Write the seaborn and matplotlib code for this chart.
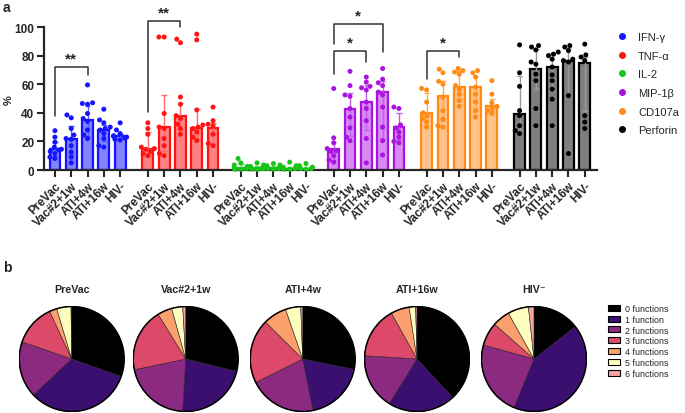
import numpy as np
import pandas as pd
import matplotlib
matplotlib.use("Agg")
import matplotlib.pyplot as plt
from matplotlib.lines import Line2D
from matplotlib.patches import Patch, Circle
import seaborn as sns

# %%
# panel a data
markers = ["IFN-γ", "TNF-α", "IL-2", "MIP-1β", "CD107a", "Perforin"]
timepoints = ["PreVac", "Vac#2+1w", "ATI+4w", "ATI+16w", "HIV-"]

bar_height = [
    [14.5, 22, 35, 28, 23.5],
    [15, 30, 38, 29.5, 29.5],
    [1.5, 1.5, 1.5, 1, 1],
    [15, 43, 47.5, 54.5, 30],
    [40, 51.5, 58, 58, 45],
    [39.5, 70.5, 72, 76.5, 74.5],
]
err_hi = [
    [19.5, 31, 45, 31.5, 25],
    [26.5, 52.5, 47, 42.5, 33],
    [4, 3, 3, 2, 1.5],
    [19.5, 54, 59.5, 62.5, 40],
    [54, 62.5, 69, 66, 50],
    [65.5, 84.5, 82, 85, 79],
]
err_lo = [
    [10, 11, 24, 20, 21.5],
    [11, 13, 28, 22, 18.5],
    [0.5, 0.5, 0.5, 0.5, 0.5],
    [7, 24, 28, 22, 21],
    [34, 34, 48, 42, 41.5],
    [28, 56.5, 55, 52, 41.5],
]

ifng = [[27.5, 23, 19.5, 16, 14.5, 14, 13, 11.5, 9, 8],
        [38.5, 36.5, 29, 24.5, 22, 21.5, 17, 12.5, 9, 5],
        [59.5, 47, 46.5, 46, 39.5, 36, 34, 28, 24.5, 22],
        [42.5, 35, 33, 30, 29, 28, 25.5, 22, 17, 16],
        [33, 28, 25.5, 24, 23.5, 23, 22.5, 21.5, 21]]
tnfa = [[33, 29, 25, 16, 15, 14.5, 13, 11.5, 10],
        [93, 93, 39.5, 30, 29, 22, 17, 11.5, 10],
        [91.5, 89, 51, 46, 38, 36, 32, 29, 25],
        [95, 91, 42, 31.5, 30, 29, 26.5, 23, 20.5],
        [44, 34.5, 32, 31, 25, 18.5, 17]]
il2 = [[8, 5, 3.5, 2.5, 2, 1.5, 1, 1, 0.5, 0.5],
       [5, 3.5, 2.5, 2, 1.5, 1, 1, 0.5, 0.5],
       [4.5, 3.5, 3, 2, 1.5, 1, 1, 0.5],
       [5.5, 3, 2, 1.5, 1, 1, 0.5, 0.5],
       [4.5, 3, 2, 1.5, 1, 1, 0.5]]
mip1b = [[57, 22.5, 19, 15, 13.5, 13, 10, 7, 5.5],
         [69, 59, 52.5, 51.5, 43, 37, 29.5, 23, 20.5],
         [65, 61.5, 58.5, 57.5, 56, 47.5, 43, 34.5, 22, 5],
         [71, 63.5, 61, 59, 54.5, 52.5, 44, 30, 20.5, 10.5],
         [44, 43, 31.5, 29.5, 26.5, 23, 20, 19]]
cd107a = [[57, 56, 47.5, 40, 38, 36, 33.5, 30],
          [70.5, 68, 62, 60, 51, 41.5, 35.5, 31, 30],
          [71, 69.5, 68.5, 67, 59, 56.5, 53, 48.5, 44.5],
          [69.5, 68, 65, 58, 53, 47.5, 41.5, 37],
          [62.5, 53, 47, 44.5, 43, 41.5, 39.5]]
perforin = [[87.5, 68, 58.5, 41.5, 38, 31, 27.5, 25.5],
            [87, 86, 84, 75.5, 74, 67, 62.5, 43, 31],
            [82.5, 81, 80, 77.5, 72, 66.5, 62.5, 56.5, 49.5, 31],
            [87, 86, 83.5, 77.5, 76.5, 75.5, 52, 11.5],
            [88, 80.5, 79, 76.5, 38, 33.5, 29]]
points = [ifng, tnfa, il2, mip1b, cd107a, perforin]

line_colors = ["#1414ff", "#ff1414", "#17c417", "#aa14e0", "#ff8a14", "#000000"]
face_colors = ["#8282ff", "#ff8282", "#8ce08c", "#d88af2", "#ffc28a", "#7f7f7f"]
err_colors = ["#5a5aff", "#ff6a6a", "#5ad65a", "#c060ea", "#ffa850", "#9a9a9a"]

# panel b data
pie_titles = ["PreVac", "Vac#2+1w", "ATI+4w", "ATI+16w", "HIV⁻"]
func_labels = ["0 functions", "1 function", "2 functions", "3 functions",
               "4 functions", "5 functions", "6 functions"]
pie_prevac = [30.4, 32.6, 17.3, 12.8, 2.3, 4.4, 0.2]
pie_vac = [28.8, 22.1, 20.8, 19.5, 4.5, 3.4, 0.9]
pie_ati4 = [28.3, 18.7, 20.9, 19.9, 7.3, 4.7, 0.6]
pie_ati16 = [38.1, 20.7, 17.2, 15.9, 5.7, 2.0, 0.4]
pie_hiv = [14.4, 41.8, 23.1, 7.2, 5.4, 6.4, 1.7]
pie_values = [pie_prevac, pie_vac, pie_ati4, pie_ati16, pie_hiv]
pie_colors = ["#000000", "#3b0f6f", "#8c2981", "#dd4968", "#fb9f6c", "#fcfdbf", "#f6a3a3"]

# %%
group_step = 5.7
rows, pts = [], []
for g, m in enumerate(markers):
    for t, tp in enumerate(timepoints):
        pos = g * group_step + t
        rows.append(dict(marker=m, time=tp, pos=pos, height=bar_height[g][t],
                         lo=err_lo[g][t], hi=err_hi[g][t]))
        for v in points[g][t]:
            pts.append(dict(marker=m, pos=pos, value=v))
summary = pd.DataFrame(rows)
df_pts = pd.DataFrame(pts)

sns.set_style("ticks")
plt.rcParams["font.family"] = ["Liberation Sans", "DejaVu Sans"]

fig = plt.figure(figsize=(6.85, 4.14), dpi=100)
W, H = 685, 414
ax = fig.add_axes([44 / W, 1 - 171 / H, 553 / W, 143 / H])

for g, m in enumerate(markers):
    sub = summary[summary["marker"] == m]
    sns.barplot(data=sub, x="pos", y="height", native_scale=True, width=0.66,
                color=face_colors[g], saturation=1, edgecolor=line_colors[g],
                linewidth=1.6, errorbar=None, ax=ax)
    for _, r in sub.iterrows():
        ax.vlines(r["pos"], r["lo"], r["hi"], color=err_colors[g], lw=1.0, zorder=3)
        ax.hlines([r["lo"], r["hi"]], r["pos"] - 0.17, r["pos"] + 0.17,
                  color=err_colors[g], lw=1.0, zorder=3)

sns.swarmplot(data=df_pts, x="pos", y="value", hue="marker", hue_order=markers,
              palette=line_colors, native_scale=True, size=3.6, legend=False,
              linewidth=0, ax=ax, zorder=4)
for c in ax.collections:
    c.set_clip_on(False)

ax.set_xlim(-0.67, 33.25)
ax.set_ylim(0, 100)
ax.set_yticks(range(0, 101, 20))
ax.set_yticklabels([str(v) for v in range(0, 101, 20)], fontsize=8.5, fontweight="bold")
ax.set_xticks(summary["pos"])
ax.set_xticklabels(summary["time"], rotation=45, ha="right", rotation_mode="anchor",
                   fontsize=8.5, fontweight="bold")
ax.tick_params(axis="both", length=5, width=1.5, pad=2)
ax.set_xlabel("")
ax.set_ylabel("")
sns.despine(ax=ax)
for s in ["left", "bottom"]:
    ax.spines[s].set_linewidth(1.6)
fig.text(8.5 / W, 1 - 100 / H, "%", rotation=90, ha="center", va="center",
         fontsize=8, fontweight="bold")


def bracket(x1, x2, y, y_left, y_right, stars, y_text):
    ax.plot([x1, x1, x2, x2], [y_left, y, y, y_right], color="#333333", lw=1.1,
            clip_on=False)
    ax.text((x1 + x2) / 2, y_text, stars, ha="center", va="center",
            fontsize=11, fontweight="bold", clip_on=False)


bracket(0, 2, 72.3, 38, 66.5, "**", 78)
bracket(group_step, group_step + 2, 104.4, 40.5, 100, "**", 110)
bracket(3 * group_step, 3 * group_step + 2, 83.5, 67.2, 75.3, "*", 89.5)
bracket(3 * group_step, 3 * group_step + 3, 102, 88, 82.8, "*", 108)
bracket(4 * group_step, 4 * group_step + 2, 83.5, 63.7, 79, "*", 89.5)

handles_a = [Line2D([], [], ls="", marker="o", markersize=4, color=c) for c in line_colors]
fig.legend(handles_a, markers, loc="upper left", bbox_to_anchor=(618 / W, 1 - 33 / H),
           frameon=False, fontsize=8, handlelength=0.8, handletextpad=1.0,
           labelspacing=0.78, borderaxespad=0, borderpad=0)

# %%
pie_cx = [71.7, 185.7, 302.7, 417, 534]
pie_cy, pie_r = 360, 53
for i, vals in enumerate(pie_values):
    pax = fig.add_axes([(pie_cx[i] - pie_r) / W, 1 - (pie_cy + pie_r) / H,
                        2 * pie_r / W, 2 * pie_r / H])
    pax.pie(vals, colors=pie_colors, startangle=90, counterclock=False, radius=1,
            wedgeprops=dict(edgecolor="#222222", linewidth=0.4))
    pax.add_patch(Circle((0, 0), 1, fill=False, ec="black", lw=1.1))
    pax.set_xlim(-1.01, 1.01)
    pax.set_ylim(-1.01, 1.01)
    pax.set_aspect("equal")
    pax.text(0, 1.34, pie_titles[i], ha="center", va="center", fontsize=7.7,
             fontweight="bold")

handles_b = [Patch(facecolor=c, edgecolor="black", lw=0.8) for c in pie_colors]
fig.legend(handles_b, func_labels, loc="upper left", bbox_to_anchor=(608 / W, 1 - 305 / H),
           frameon=False, fontsize=6.4, handlelength=1.3, handleheight=0.65,
           handletextpad=0.6, labelspacing=0.2, borderaxespad=0, borderpad=0)

fig.text(3 / W, 1 - 8 / H, "a", fontsize=10, fontweight="bold", va="center")
fig.text(3 / W, 1 - 268 / H, "b", fontsize=10, fontweight="bold", va="center")

fig.savefig("out.png", dpi=100)
